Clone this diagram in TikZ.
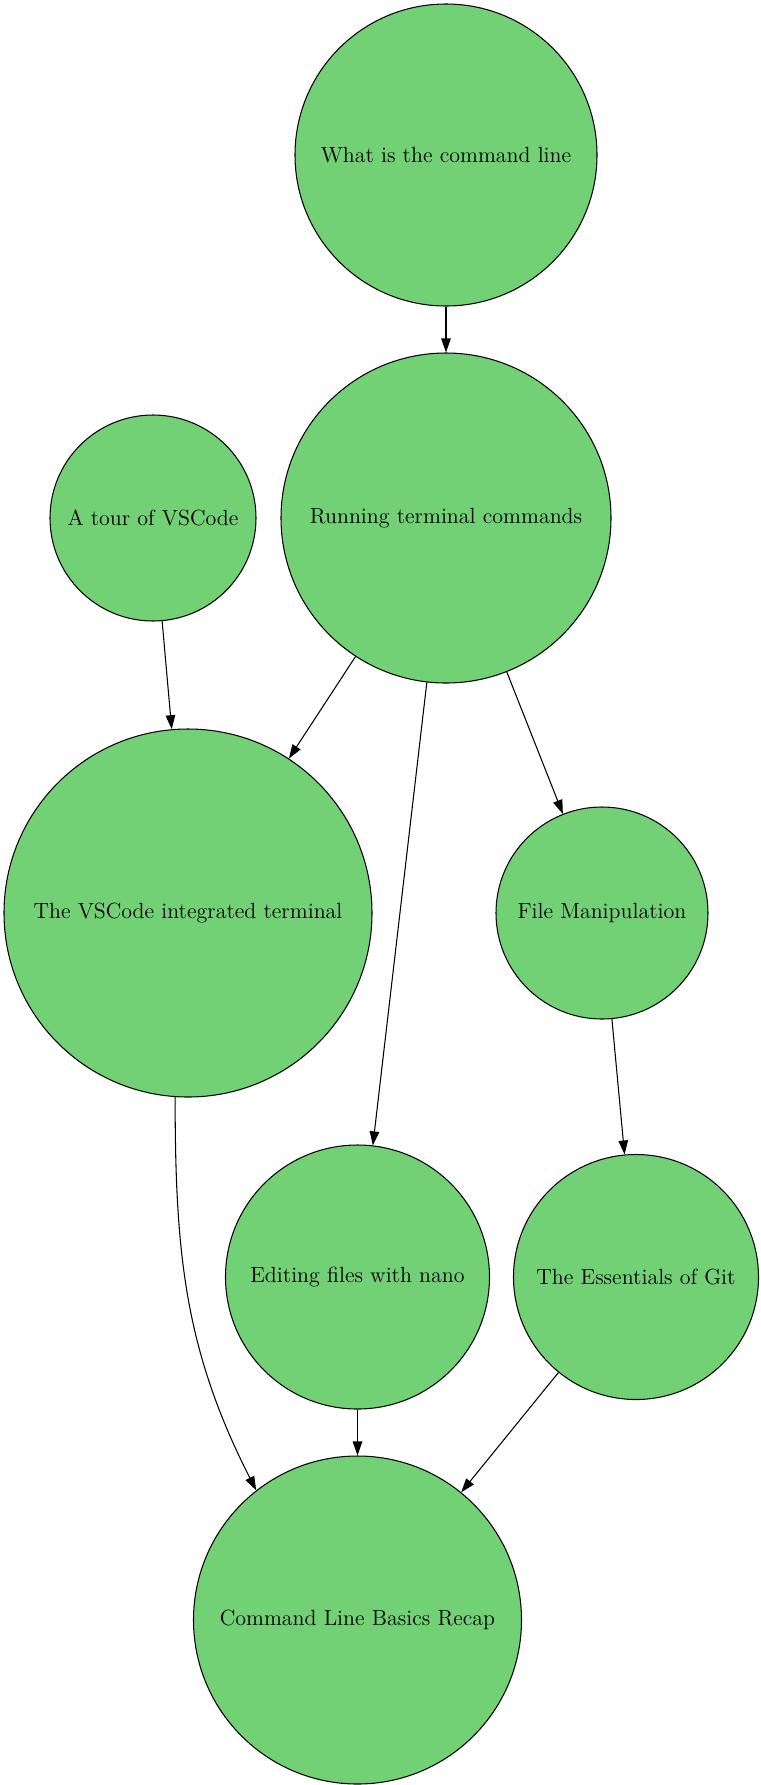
\documentclass[tikz,border=0pt]{standalone}
\usetikzlibrary{arrows.meta,positioning}
\definecolor{topicgreen}{RGB}{113,209,116}

\begin{document}
\begin{tikzpicture}[
	> = {Triangle[length=2.8mm, width=1.9mm]}, % arrow head style
	on grid, % distances are centre to centre
	line width = 0.6pt, % line style
	T/.style={circle, draw=black, fill=topicgreen, inner sep=0pt, font=\fontsize{12.5}{15}\selectfont},  %one topic
	]
	\useasboundingbox (0,0) rectangle (15.2,-35.7);

	% Topics and where they sit
	\node[T, minimum size=6.04cm] (W) at (8.92,-3.10) {What is the command line};
	\node[T, minimum size=6.60cm] (R) [below = 7.26 of W] {Running terminal commands};
	\node[T, minimum size=4.12cm] (A) [left = 5.86 of R] {A tour of VSCode};
	\node[T, minimum size=7.36cm] (V) [below right = 7.90 and 0.70 of A] {The VSCode integrated terminal};
	\node[T, minimum size=4.24cm] (F) [right = 8.28 of V] {File Manipulation};
	\node[T, minimum size=5.28cm] (E) [below left = 7.28 and 4.89 of F] {Editing files with nano};
	\node[T, minimum size=4.90cm] (G) [right = 5.57 of E] {The Essentials of Git};
	\node[T, minimum size=6.56cm] (C) [below = 6.86 of E] {Command Line Basics Recap};

	% Arrows between topics
	\path[->] (W) edge (R);
	\path[->] (R) edge (V);
	\path[->] (R) edge (E);
	\path[->] (R) edge (F);
	\path[->] (A) edge (V);
	\path[->] (V.-94) edge[out=-90, in=117] (C.128);
	\path[->] (F) edge (G);
	\path[->] (E) edge (C);
	\path[->] (G) edge (C);

\end{tikzpicture}
\end{document}
